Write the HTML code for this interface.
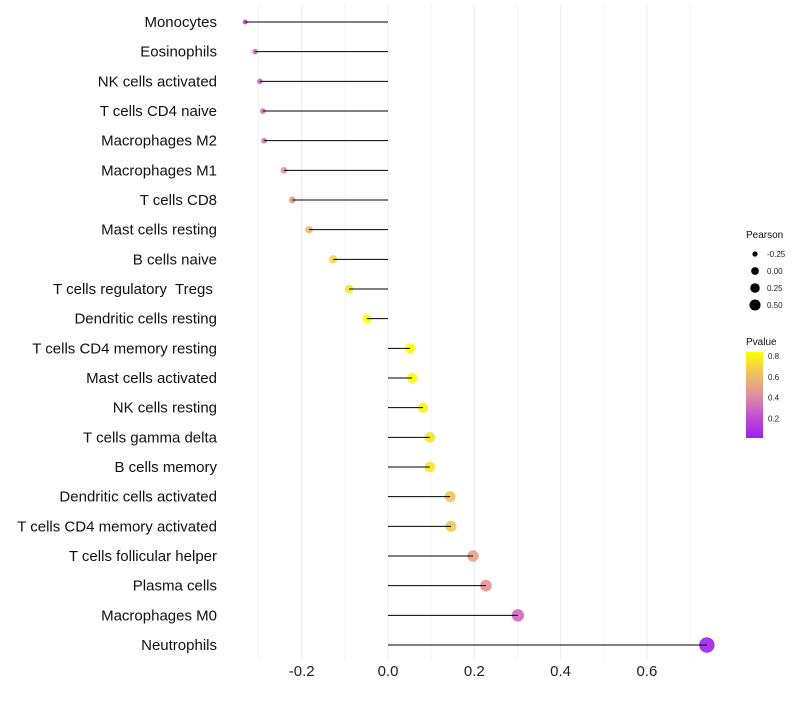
<!DOCTYPE html>
<html><head><meta charset="utf-8"><style>
body{margin:0;background:#fff;font-family:"Liberation Sans",sans-serif}
text{white-space:pre}
</style></head><body>
<svg id="chart" width="800" height="700" xmlns="http://www.w3.org/2000/svg">
<defs><linearGradient id="pg" x1="0" y1="1" x2="0" y2="0">
<stop offset="0" stop-color="#a020f0"/><stop offset="0.25" stop-color="#c050d0"/><stop offset="0.5" stop-color="#e090a0"/><stop offset="0.75" stop-color="#f0c060"/><stop offset="1" stop-color="#ffff00"/></linearGradient></defs>
<g id="grid"></g><g id="points"></g><g id="marks"></g><g id="labels"></g><g id="legend"></g>
</svg>
<script>
const categories=["Monocytes","Eosinophils","NK cells activated","T cells CD4 naive","Macrophages M2","Macrophages M1","T cells CD8","Mast cells resting","B cells naive","T cells regulatory  Tregs ","Dendritic cells resting","T cells CD4 memory resting","Mast cells activated","NK cells resting","T cells gamma delta","B cells memory","Dendritic cells activated","T cells CD4 memory activated","T cells follicular helper","Plasma cells","Macrophages M0","Neutrophils"];
const pearson=[-0.331,-0.308,-0.297,-0.29,-0.287,-0.241,-0.222,-0.183,-0.127,-0.09,-0.049,0.051,0.056,0.081,0.097,0.097,0.144,0.146,0.197,0.227,0.301,0.739];
const pvalue=[0.2,0.3,0.3,0.35,0.35,0.45,0.5,0.6,0.7,0.75,0.85,0.85,0.85,0.8,0.75,0.75,0.65,0.65,0.5,0.45,0.3,0.01];
const xTicks=[-0.2,0,0.2,0.4,0.6];
const xMinor=[-0.3,-0.1,0.1,0.3,0.5,0.7];
const sizeLegend=[-0.25,0,0.25,0.5];
const colorTicks=[0.8,0.6,0.4,0.2];
const NS="http://www.w3.org/2000/svg";
const X=v=>388+v*431.5;
const Y=i=>22+i*29.667;
const R=v=>Math.sqrt(Math.max(2.25,23+50*v));
const stops=[[0.01,[160,32,240]],[0.22,[192,80,208]],[0.43,[224,144,160]],[0.63,[240,192,96]],[0.84,[255,255,0]]];
function col(p){p=Math.max(0.01,Math.min(0.84,p));for(let k=0;k<stops.length-1;k++){const a=stops[k],b=stops[k+1];if(p<=b[0]){const t=(p-a[0])/(b[0]-a[0]);return 'rgb('+a[1].map((c,j)=>Math.round(c+(b[1][j]-c)*t)).join(',')+')';}}return 'rgb(255,255,0)';}
function mk(tag,attrs,parent,text){const e=document.createElementNS(NS,tag);for(const k in attrs)e.setAttribute(k,attrs[k]);if(text!==undefined)e.textContent=text;document.getElementById(parent).appendChild(e);return e;}
xMinor.forEach(v=>{const l=mk('line',{x1:X(v),x2:X(v),y1:5,y2:660,stroke:'#f4f4f4','stroke-width':1},'grid');

});
xTicks.forEach(v=>{const l=mk('line',{x1:X(v),x2:X(v),y1:5,y2:660,stroke:'#ebebeb','stroke-width':1},'grid');


const t=mk('text',{x:X(v),y:676,'text-anchor':'middle','font-size':15,fill:'#222'},'labels',v===0?'0.0':v.toFixed(1));

});
categories.forEach((c,i)=>{const y=Y(i);
const p=mk('circle',{cx:X(pearson[i]),cy:y,r:R(pearson[i]),fill:col(pvalue[i]),'fill-opacity':0.9},'points');


const l=mk('line',{x1:X(0),x2:X(pearson[i]),y1:y,y2:y,stroke:'#000','stroke-width':1},'marks');


const t=mk('text',{x:217,y:y+5,'text-anchor':'end','font-size':15,fill:'#111'},'labels',c);

});
let t=mk('text',{x:746,y:238,'font-size':10,fill:'#111'},'legend','Pearson');


sizeLegend.forEach((v,k)=>{const y=254+k*17;
const c=mk('circle',{cx:755,cy:y,r:R(v)*0.8,fill:'#000'},'legend');


const s=mk('text',{x:767,y:y+3,'font-size':8,fill:'#222'},'legend',v.toFixed(2));

});
t=mk('text',{x:746,y:345,'font-size':10,fill:'#111'},'legend','Pvalue');


const bar=mk('rect',{x:746,y:352,width:17,height:86,fill:'url(#pg)'},'legend');


colorTicks.forEach(v=>{const y=438-(v-0.01)/0.83*86;
const s=mk('text',{x:768,y:y+3,'font-size':8,fill:'#222'},'legend',v.toFixed(1));

});
</script>
</body></html>
